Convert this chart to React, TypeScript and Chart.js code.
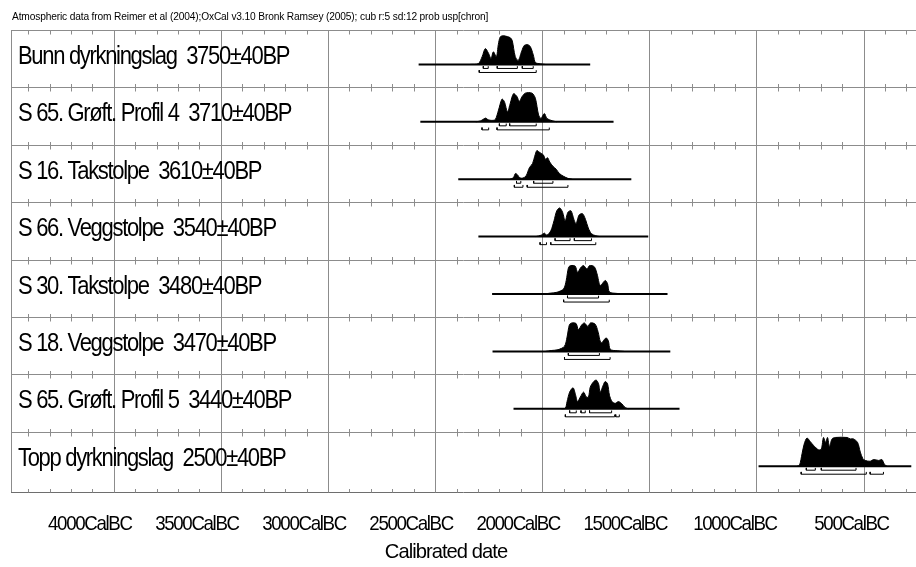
import React, { useEffect, useRef } from "react";
import { Chart, registerables } from "chart.js";
Chart.register(...registerables);

const titleText =
  "Atmospheric data from Reimer et al (2004);OxCal v3.10 Bronk Ramsey (2005); cub r:5 sd:12 prob usp[chron]";

const rowLabels = [
  "Bunn dyrkningslag  3750±40BP",
  "S 65. Grøft. Profil 4  3710±40BP",
  "S 16. Takstolpe  3610±40BP",
  "S 66. Veggstolpe  3540±40BP",
  "S 30. Takstolpe  3480±40BP",
  "S 18. Veggstolpe  3470±40BP",
  "S 65. Grøft. Profil 5  3440±40BP",
  "Topp dyrkningslag  2500±40BP",
];

// [calendar year (negative = BC), relative probability]
const dist1 = [[-2336,0],[-2298,0.03],[-2280,0.28],[-2266,0.55],[-2252,0.41],[-2239,0.21],[-2228,0.44],[-2214,0.27],[-2205,0.69],[-2196,0.96],[-2182,1],[-2163,0.97],[-2149,0.93],[-2140,0.83],[-2126,0.28],[-2112,0.14],[-2095,0.48],[-2084,0.66],[-2071,0.69],[-2060,0.66],[-2051,0.55],[-2040,0.28],[-2032,0.07],[-2009,0.02],[-1985,0]];
const dist2 = [[-2310,0],[-2289,0.03],[-2277,0.08],[-2264,0.13],[-2252,0.07],[-2235,0.05],[-2219,0.08],[-2204,0.41],[-2188,0.79],[-2177,0.71],[-2162,0.35],[-2149,0.65],[-2134,0.98],[-2118,0.88],[-2107,0.71],[-2094,0.88],[-2079,1],[-2048,1],[-2032,0.82],[-2017,0.24],[-2006,0.12],[-1990,0.29],[-1978,0.12],[-1954,0.04],[-1931,0]];
const dist3 = [[-2150,0],[-2135,0.05],[-2125,0.2],[-2115,0.15],[-2105,0.05],[-2090,0.04],[-2075,0.12],[-2060,0.4],[-2045,0.55],[-2035,0.8],[-2025,1],[-2015,0.95],[-2005,0.9],[-1995,0.85],[-1985,0.7],[-1975,0.75],[-1965,0.6],[-1950,0.45],[-1935,0.35],[-1920,0.2],[-1900,0.1],[-1880,0.03],[-1860,0]];
const dist4 = [[-2030,0],[-2005,0.05],[-1990,0.12],[-1978,0.05],[-1960,0.2],[-1945,0.55],[-1932,0.9],[-1918,1],[-1905,0.85],[-1893,0.55],[-1880,0.85],[-1866,0.9],[-1852,0.6],[-1842,0.45],[-1828,0.75],[-1812,0.8],[-1798,0.6],[-1785,0.3],[-1770,0.1],[-1750,0.03],[-1730,0]];
const dist5 = [[-1990,0],[-1962,0.03],[-1931,0.06],[-1900,0.18],[-1888,0.47],[-1877,0.93],[-1866,0.99],[-1846,0.97],[-1835,0.76],[-1819,0.93],[-1807,0.99],[-1791,0.87],[-1779,0.99],[-1757,0.95],[-1744,0.7],[-1729,0.3],[-1706,0.47],[-1695,0.36],[-1686,0.07],[-1651,0.02],[-1622,0]];
const dist6 = [[-1985,0],[-1958,0.03],[-1926,0.06],[-1896,0.18],[-1884,0.5],[-1873,0.93],[-1862,0.99],[-1842,0.97],[-1831,0.76],[-1815,0.93],[-1803,0.99],[-1787,0.87],[-1775,0.99],[-1753,0.95],[-1740,0.7],[-1725,0.3],[-1702,0.47],[-1691,0.36],[-1682,0.07],[-1647,0.02],[-1618,0]];
const dist7 = [[-1910,0],[-1892,0.02],[-1884,0.25],[-1872,0.58],[-1856,0.73],[-1846,0.53],[-1835,0.25],[-1822,0.41],[-1807,0.58],[-1794,0.41],[-1784,0.41],[-1776,0.75],[-1763,0.92],[-1748,1],[-1737,0.87],[-1729,0.58],[-1716,0.81],[-1706,0.95],[-1695,0.87],[-1686,0.47],[-1674,0.25],[-1659,0.19],[-1644,0.25],[-1628,0.17],[-1612,0.04],[-1597,0]];
const dist8 = [[-810,0],[-799,0.03],[-787,0.43],[-777,0.77],[-764,0.98],[-749,0.86],[-733,0.72],[-710,0.57],[-697,0.6],[-687,1],[-677,0.83],[-668,1],[-659,0.68],[-647,0.95],[-632,1],[-577,1],[-562,0.95],[-547,0.95],[-528,0.83],[-515,0.49],[-503,0.26],[-492,0.2],[-469,0.17],[-453,0.23],[-430,0.2],[-414,0.23],[-403,0.07],[-391,0]];
const distributions = [dist1, dist2, dist3, dist4, dist5, dist6, dist7, dist8];

// extent of each row's base line
const lineExtents = [[-2577,-1776],[-2569,-1667],[-2392,-1584],[-2298,-1505],[-2234,-1415],[-2232,-1402],[-2134,-1359],[-990,-277]];

// 68.2% and 95.4% ranges
const ranges68 = [
  [[-2275,-2252],[-2210,-2116],[-2093,-2042]],
  [[-2200,-2168],[-2152,-2028]],
  [[-2120,-2100],[-2040,-1950]],
  [[-1940,-1870],[-1850,-1770]],
  [[-1882,-1737]],
  [[-1878,-1733]],
  [[-1872,-1841],[-1819,-1799],[-1779,-1676]],
  [[-767,-725],[-697,-535]],
];
const ranges95 = [
  [[-2294,-2028]],
  [[-2281,-2250],[-2211,-1967]],
  [[-2130,-2090],[-2070,-1880]],
  [[-2010,-1980],[-1960,-1750]],
  [[-1900,-1687]],
  [[-1896,-1683]],
  [[-1892,-1662],[-1657,-1640]],
  [[-791,-487],[-469,-407]],
];

const axisYears = [-4000, -3500, -3000, -2500, -2000, -1500, -1000, -500];
const axisLabels = ["4000CalBC","3500CalBC","3000CalBC","2500CalBC","2000CalBC","1500CalBC","1000CalBC","500CalBC"];
// OxCal draws its axis labels a little left of the grid line (offset in years)
const axisLabelShift = [-112, -112, -112, -112, -112, -112, -100, -56];
const axisTitle = "Calibrated date";

const X_MIN = -4480;
const X_MAX = -255;
const Y_MAX = 8.05;
const BASE = 0.6;
const PEAK = 0.5;
const B68 = 0.07;
const B95 = 0.14;
const BT = 0.04;

function bracketData(row: number, ranges: number[][], off: number) {
  const pts: any[] = [];
  const yb = row + BASE + off;
  ranges.forEach(([a, b]) => {
    pts.push({ x: a, y: yb - BT }, { x: a, y: yb }, { x: b, y: yb }, { x: b, y: yb - BT }, { x: b, y: null });
  });
  return pts;
}

const gridPlugin = {
  id: "oxcalGrid",
  beforeDatasetsDraw(chart: any) {
    const { ctx, chartArea, scales } = chart;
    const xs = scales.x;
    const ys = scales.y;
    ctx.save();
    ctx.strokeStyle = "#8c8c8c";
    ctx.lineWidth = 1;
    const L = chartArea.left, R = chartArea.right;
    const top = ys.getPixelForValue(0);
    const bot = ys.getPixelForValue(Y_MAX);
    for (let v = -4500; v <= X_MAX; v += 500) {
      if (v < X_MIN) continue;
      const px = Math.round(xs.getPixelForValue(v)) + 0.5;
      ctx.beginPath();
      ctx.moveTo(px, top);
      ctx.lineTo(px, bot);
      ctx.stroke();
    }
    const rows: number[] = [];
    for (let i = 0; i <= 7; i++) rows.push(ys.getPixelForValue(i));
    rows.push(bot);
    rows.forEach((py: number, i: number) => {
      const y = Math.round(py) + 0.5;
      ctx.strokeStyle = i === rows.length - 1 ? "#6e6e6e" : "#8c8c8c";
      ctx.beginPath();
      ctx.moveTo(L, y);
      ctx.lineTo(R, y);
      ctx.stroke();
    });
    ctx.strokeStyle = "#8c8c8c";
    ctx.beginPath();
    ctx.moveTo(Math.round(L) + 0.5, top);
    ctx.lineTo(Math.round(L) + 0.5, bot);
    ctx.stroke();
    for (let v = -4400; v <= X_MAX; v += 100) {
      const px = Math.round(xs.getPixelForValue(v)) + 0.5;
      rows.forEach((py: number, i: number) => {
        const y = Math.round(py) + 0.5;
        const up = i === 0 ? 0 : 3.5;
        const down = i === rows.length - 1 ? 0 : 4;
        ctx.beginPath();
        ctx.moveTo(px, y - up);
        ctx.lineTo(px, y + down);
        ctx.stroke();
      });
    }
    ctx.restore();
  },
  afterDraw(chart: any) {
    const { ctx, scales } = chart;
    const xs = scales.x;
    const ys = scales.y;
    ctx.save();
    ctx.fillStyle = "#000";
    ctx.textBaseline = "alphabetic";
    const drawText = (t: string, x: number, y: number, size: number, sx: number, ls: number, align: string) => {
      ctx.save();
      ctx.font = `${size}px "Liberation Sans", Arial, sans-serif`;
      (ctx as any).letterSpacing = `${ls}px`;
      const w = ctx.measureText(t).width * sx;
      let x0 = x;
      if (align === "center") x0 = x - w / 2;
      ctx.translate(x0, y);
      ctx.scale(sx, 1);
      ctx.textAlign = "left";
      ctx.fillText(t, 0, 0);
      ctx.restore();
    };
    drawText(titleText, 12, 20, 10, 1.02, -0.15, "left");
    rowLabels.forEach((t, i) => {
      drawText(t, 18, ys.getPixelForValue(i) + 34, 25, 0.88, -1.5, "left");
    });
    axisYears.forEach((v, i) => {
      drawText(axisLabels[i], xs.getPixelForValue(v + axisLabelShift[i]), 530, 21, 0.89, -1.5, "center");
    });
    drawText(axisTitle, 446, 558, 21, 0.96, -1, "center");
    ctx.restore();
  },
};

export default function App() {
  const ref = useRef<HTMLCanvasElement | null>(null);
  useEffect(() => {
    if (!ref.current) return;
    const datasets: any[] = [];
    distributions.forEach((d, i) => {
      datasets.push({
        data: d.map(([yr, p]) => ({ x: yr, y: i + BASE - p * PEAK })),
        borderColor: "#000",
        backgroundColor: "#000",
        borderWidth: 1,
        fill: { value: i + BASE },
        pointRadius: 0,
        tension: 0.3,
      });
      datasets.push({
        data: [
          { x: lineExtents[i][0], y: i + BASE },
          { x: lineExtents[i][1], y: i + BASE },
        ],
        borderColor: "#000",
        borderWidth: 2,
        pointRadius: 0,
        fill: false,
      });
      datasets.push({
        data: bracketData(i, ranges68[i], B68),
        borderColor: "#000",
        borderWidth: 1,
        pointRadius: 0,
        fill: false,
        spanGaps: false,
      });
      datasets.push({
        data: bracketData(i, ranges95[i], B95),
        borderColor: "#000",
        borderWidth: 1,
        pointRadius: 0,
        fill: false,
        spanGaps: false,
      });
    });
    const chart = new Chart(ref.current, {
      type: "line",
      data: { datasets },
      options: {
        animation: false,
        responsive: false,
        devicePixelRatio: 1,
        layout: { padding: { left: 11, top: 30, right: 0, bottom: 75 } },
        plugins: { legend: { display: false }, tooltip: { enabled: false } },
        scales: {
          x: { type: "linear", min: X_MIN, max: X_MAX, display: false },
          y: { type: "linear", min: 0, max: Y_MAX, reverse: true, display: false },
        },
      },
      plugins: [gridPlugin],
    });
    return () => chart.destroy();
  }, []);
  return (
    <div style={{ position: "absolute", left: 0, top: 0, width: 916, height: 567, background: "#fff" }}>
      <canvas ref={ref} width={916} height={567} style={{ display: "block" }} />
    </div>
  );
}
